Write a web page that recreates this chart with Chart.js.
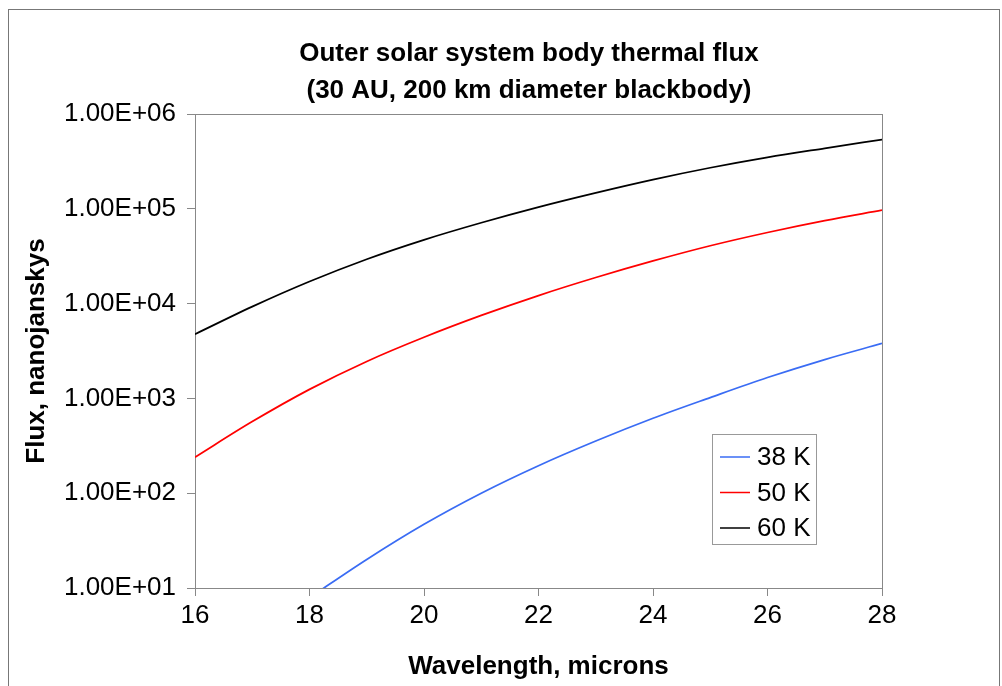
<!DOCTYPE html>
<html>
<head>
<meta charset="utf-8">
<script src="https://cdn.jsdelivr.net/npm/chart.js@4/dist/chart.umd.min.js"></script>
<style>
  html, body { margin: 0; padding: 0; background: #fff; }
  #wrap { width: 1002px; height: 686px; }
</style>
</head>
<body>
<div id="wrap"><canvas id="fluxChart" width="1002" height="686"></canvas></div>
<script>
// ---- data ----
const wavelengths = [16, 17, 18, 19, 20, 21, 22, 23, 24, 25, 26, 27, 28];
const flux38K = [null, null, 7.9, 20, 47, 100, 195, 355, 617, 1020, 1660, 2570, 3800];
const flux50K = [240, 569, 1245, 2455, 4416, 7500, 12160, 18840, 28180, 40740, 56230, 75000, 96600];
const flux60K = [4760, 9290, 17100, 29400, 47100, 71300, 104200, 147200, 203200, 271000, 349000, 434500, 537000];
const seriesNames = ["38 K", "50 K", "60 K"];
const seriesColors = ["#3a6cf4", "#ff0000", "#000000"];
const yTickValues = [1e1, 1e2, 1e3, 1e4, 1e5, 1e6];
const titleLines = ["Outer solar system body thermal flux", "(30 AU, 200 km diameter blackbody)"];

const FONT = "'Liberation Sans', Arial, sans-serif";
const AXIS_GREY = "#888888";

function sci(v) {
  const parts = v.toExponential(2).split("e");
  const exp = parts[1];
  return parts[0] + "E" + exp[0] + exp.slice(1).padStart(2, "0");
}

function toPoints(arr) {
  return wavelengths.map((w, i) => ({ x: w, y: arr[i] }));
}

// frame, plot border, title and legend box like the spreadsheet chart
const decorPlugin = {
  id: "decor",
  beforeDraw(chart) {
    const ctx = chart.ctx;
    ctx.save();
    ctx.fillStyle = "#fff";
    ctx.fillRect(0, 0, chart.width, chart.height);
    ctx.strokeStyle = "#777";
    ctx.lineWidth = 1;
    ctx.strokeRect(8.5, 9.5, 991, 700);
    ctx.restore();
  },
  beforeDatasetsDraw(chart) {
    const a = chart.chartArea;
    const ctx = chart.ctx;
    ctx.save();
    ctx.strokeStyle = AXIS_GREY;
    ctx.lineWidth = 1;
    ctx.strokeRect(Math.round(a.left) + 0.5, Math.round(a.top) + 0.5,
      Math.round(a.right - a.left), Math.round(a.bottom - a.top));
    ctx.restore();
  },
  afterDraw(chart) {
    const ctx = chart.ctx;
    ctx.save();
    // title
    ctx.fillStyle = "#000";
    ctx.font = "bold 26px " + FONT;
    ctx.textAlign = "center";
    ctx.textBaseline = "middle";
    ctx.fillText(titleLines[0], 529, 54);
    ctx.fillText(titleLines[1], 529, 91);

    // legend
    const bx = 712.5, by = 434.5, bw = 104, bh = 110;
    ctx.fillStyle = "#fff";
    ctx.fillRect(bx, by, bw, bh);
    ctx.strokeStyle = "#999";
    ctx.lineWidth = 1;
    ctx.strokeRect(bx, by, bw, bh);
    ctx.font = "26px " + FONT;
    ctx.textAlign = "left";
    chart.data.datasets.forEach((ds, i) => {
      const y = 457 + i * 35.5;
      ctx.strokeStyle = ds.borderColor;
      ctx.lineWidth = 1.5;
      ctx.beginPath();
      ctx.moveTo(720, y);
      ctx.lineTo(750, y);
      ctx.stroke();
      ctx.fillStyle = "#000";
      ctx.fillText(ds.label, 757, y + 1);
    });
    ctx.restore();
  }
};

const ctx = document.getElementById("fluxChart").getContext("2d");

new Chart(ctx, {
  type: "line",
  data: {
    datasets: [flux38K, flux50K, flux60K].map((arr, i) => ({
      label: seriesNames[i],
      data: toPoints(arr),
      borderColor: seriesColors[i],
      backgroundColor: seriesColors[i],
      borderWidth: 1.75,
      pointRadius: 0,
      fill: false,
      cubicInterpolationMode: "monotone"
    }))
  },
  options: {
    responsive: false,
    animation: false,
    layout: { padding: { top: 114, left: 10, right: 120, bottom: 0 } },
    plugins: {
      legend: { display: false },
      title: { display: false },
      tooltip: { enabled: false }
    },
    scales: {
      x: {
        type: "linear",
        min: 16,
        max: 28,
        afterFit(scale) { scale.height = 98; },
        ticks: {
          stepSize: 2,
          padding: 4,
          color: "#000",
          font: { family: FONT, size: 26 }
        },
        grid: { drawOnChartArea: false, drawTicks: true, tickLength: 8, color: AXIS_GREY },
        border: { display: true, color: AXIS_GREY },
        title: {
          display: true,
          text: "Wavelength, microns",
          color: "#000",
          font: { family: FONT, size: 26, weight: "bold" },
          padding: { top: 0, bottom: 4 }
        }
      },
      y: {
        type: "logarithmic",
        min: 10,
        max: 1e6,
        afterFit(scale) { scale.width = 185; },
        afterBuildTicks(scale) {
          scale.ticks = yTickValues.map(v => ({ value: v }));
        },
        ticks: {
          padding: 11,
          color: "#000",
          font: { family: FONT, size: 26 },
          callback: v => sci(v)
        },
        grid: { drawOnChartArea: false, drawTicks: true, tickLength: 8, color: AXIS_GREY },
        border: { display: true, color: AXIS_GREY },
        title: {
          display: true,
          text: "Flux, nanojanskys",
          color: "#000",
          font: { family: FONT, size: 26, weight: "bold" },
          padding: { top: 11, bottom: 0 }
        }
      }
    }
  },
  plugins: [decorPlugin]
});
</script>
</body>
</html>
